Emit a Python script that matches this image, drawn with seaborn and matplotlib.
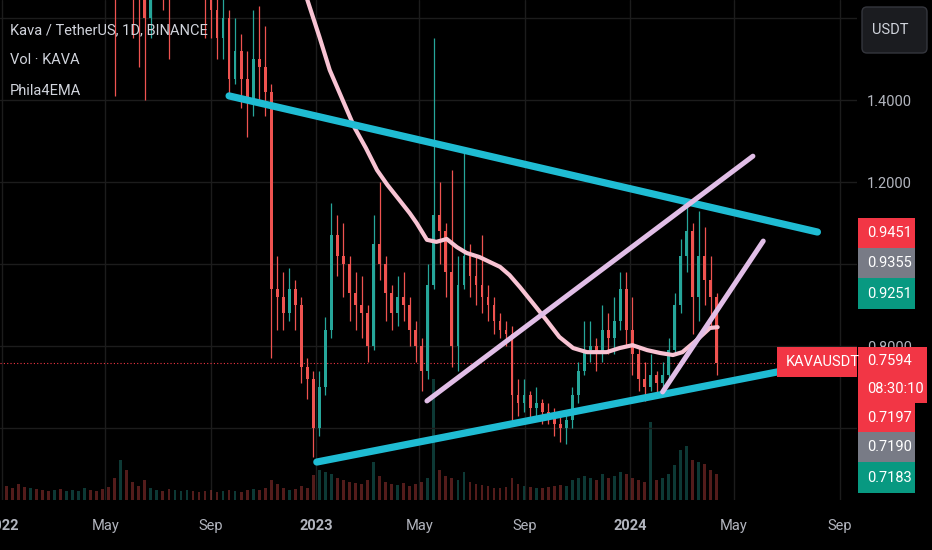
import numpy as np
import pandas as pd
import matplotlib
matplotlib.use('Agg')
import matplotlib.pyplot as plt
import matplotlib.dates as mdates
from matplotlib.patches import Rectangle, FancyBboxPatch
from matplotlib.transforms import IdentityTransform
import seaborn as sns

# KAVA / USDT, weekly candles (2022-01 .. 2024-04)
first_open = 4.4
close = [4.0, 3.6, 2.9, 2.8, 3.0, 2.7, 2.5, 2.4, 2.7, 2.6,
         2.9, 3.3, 3.8, 3.9, 3.2, 2.8, 2.4, 2.2, 1.8, 2.0,
         1.9, 1.8, 1.75, 1.6, 1.75, 1.8, 1.75, 1.7, 1.9, 2.0,
         2.1, 2.0, 1.85, 1.7, 1.62, 1.55, 1.60, 1.45, 1.52, 1.45,
         1.40, 1.50, 1.48, 1.42, 0.94, 0.92, 0.88, 0.94, 0.90, 0.75,
         0.72, 0.60, 0.70, 0.84, 1.07, 1.02, 1.00, 0.93, 0.90, 0.88,
         0.80, 1.05, 1.00, 0.93, 0.88, 0.92, 0.90, 0.84, 0.80, 0.74,
         0.95, 1.12, 1.08, 0.98, 0.80, 0.95, 1.02, 0.97, 0.95, 0.92,
         0.90, 0.86, 0.84, 0.83, 0.68, 0.66, 0.68, 0.65, 0.66, 0.64,
         0.63, 0.61, 0.60, 0.62, 0.68, 0.74, 0.79, 0.80, 0.78, 0.84,
         0.82, 0.86, 0.94, 0.84, 0.78, 0.72, 0.70, 0.73, 0.71, 0.73,
         0.79, 0.90, 1.02, 1.08, 0.92, 1.02, 0.96, 0.92, 0.7594]
high = [4.9, 4.2, 3.7, 3.1, 3.2, 3.1, 2.9, 2.6, 2.9, 2.9,
        3.1, 3.5, 4.1, 4.6, 4.0, 3.3, 2.9, 2.5, 2.3, 2.2,
        2.2, 2.0, 1.95, 1.85, 1.9, 1.95, 1.9, 1.9, 2.0, 2.2,
        2.3, 2.2, 2.05, 1.9, 1.8, 1.7, 1.68, 1.62, 1.60, 1.56,
        1.52, 1.62, 1.63, 1.58, 1.44, 1.02, 0.98, 0.99, 0.96, 0.92,
        0.77, 0.74, 0.74, 0.87, 1.15, 1.12, 1.10, 1.02, 0.98, 0.97,
        0.90, 1.12, 1.20, 1.02, 0.95, 0.97, 0.98, 0.92, 0.86, 0.82,
        1.00, 1.55, 1.20, 1.10, 1.23, 1.02, 1.27, 1.05, 1.02, 1.07,
        0.95, 0.92, 0.88, 0.86, 0.85, 0.72, 0.72, 0.69, 0.70, 0.67,
        0.66, 0.65, 0.63, 0.64, 0.70, 0.76, 0.86, 0.86, 0.82, 0.90,
        0.88, 0.92, 0.98, 0.98, 0.92, 0.80, 0.76, 0.78, 0.74, 0.76,
        0.82, 0.93, 1.06, 1.15, 1.10, 1.13, 1.09, 1.02, 0.93]
low = [3.9, 3.5, 2.7, 2.4, 2.7, 2.6, 2.3, 2.1, 2.3, 2.4,
       2.5, 2.8, 3.2, 3.6, 3.0, 2.6, 2.2, 1.9, 1.41, 1.7,
       1.75, 1.55, 1.48, 1.40, 1.55, 1.65, 1.62, 1.50, 1.7, 1.85,
       1.95, 1.85, 1.7, 1.55, 1.55, 1.50, 1.50, 1.41, 1.44, 1.38,
       1.31, 1.36, 1.40, 1.36, 0.77, 0.84, 0.84, 0.86, 0.84, 0.71,
       0.67, 0.53, 0.58, 0.68, 0.82, 0.97, 0.92, 0.86, 0.84, 0.82,
       0.76, 0.79, 0.96, 0.86, 0.84, 0.85, 0.86, 0.80, 0.76, 0.69,
       0.72, 0.94, 1.00, 0.92, 0.75, 0.74, 0.94, 0.92, 0.90, 0.88,
       0.86, 0.83, 0.82, 0.80, 0.62, 0.63, 0.64, 0.62, 0.62, 0.61,
       0.61, 0.58, 0.565, 0.56, 0.60, 0.66, 0.73, 0.76, 0.74, 0.76,
       0.78, 0.78, 0.84, 0.80, 0.73, 0.69, 0.665, 0.69, 0.68, 0.69,
       0.72, 0.78, 0.88, 0.98, 0.83, 0.86, 0.90, 0.85, 0.73]
volume = [14, 12, 16, 13, 12, 11, 10, 9, 10, 11,
          9, 10, 9, 12, 10, 9, 11, 13, 22, 40,
          30, 18, 14, 20, 12, 10, 9, 11, 10, 9,
          10, 9, 8, 9, 10, 8, 9, 10, 9, 8,
          10, 11, 10, 12, 20, 16, 12, 10, 11, 14,
          12, 25, 30, 28, 26, 22, 20, 18, 17, 16,
          20, 38, 24, 18, 16, 15, 17, 14, 16, 18,
          22, 121, 30, 24, 22, 20, 28, 18, 16, 15,
          14, 12, 12, 13, 22, 16, 14, 13, 12, 12,
          13, 14, 15, 14, 20, 22, 24, 22, 20, 26,
          22, 24, 28, 26, 22, 20, 18, 78, 20, 22,
          26, 35, 50, 54, 40, 38, 36, 30, 26]
candle_dates = pd.date_range('2022-01-06', periods=len(close), freq='7D')

# Phila4EMA line
ema_dates = ['2022-11-26', '2022-12-13', '2022-12-22', '2023-01-05', '2023-01-17',
             '2023-02-01', '2023-02-15', '2023-02-28', '2023-03-13', '2023-03-25',
             '2023-04-08', '2023-04-20', '2023-04-28', '2023-05-10', '2023-05-21',
             '2023-06-02', '2023-06-14', '2023-06-25', '2023-07-10', '2023-07-22',
             '2023-08-03', '2023-08-14', '2023-08-26', '2023-09-10', '2023-09-26',
             '2023-10-11', '2023-10-27', '2023-11-12', '2023-12-05', '2023-12-20',
             '2024-01-04', '2024-01-21', '2024-02-05', '2024-02-20', '2024-03-02',
             '2024-03-19', '2024-04-03', '2024-04-12']
ema_values = [1.912, 1.741, 1.644, 1.554, 1.473,
              1.400, 1.332, 1.283, 1.229, 1.193,
              1.156, 1.124, 1.100, 1.059, 1.054,
              1.061, 1.041, 1.027, 1.017, 1.005,
              0.993, 0.973, 0.944, 0.905, 0.863,
              0.822, 0.795, 0.785, 0.785, 0.795,
              0.802, 0.790, 0.783, 0.778, 0.785,
              0.815, 0.844, 0.846]

# hand drawn trend lines
upper_line_dates = ['2022-09-22', '2024-08-06']
upper_line_prices = [1.410, 1.078]
lower_line_dates = ['2023-01-02', '2024-06-21']
lower_line_prices = [0.517, 0.737]
channel_dates = ['2023-05-10', '2024-05-23']
channel_prices = [0.666, 1.263]
short_line_dates = ['2024-02-08', '2024-06-04']
short_line_prices = [0.688, 1.056]

last_price = 0.7594
countdown = '08:30:10'
upper_tags = ['0.9451', '0.9355', '0.9251']
lower_tags = ['0.7197', '0.7190', '0.7183']
price_ticks = [0.6, 0.8, 1.0, 1.2, 1.4, 1.6]
price_tick_labels = ['', '0.8000', '', '1.2000', '1.4000', '']  # others hidden under tags
time_ticks = ['2022-01-01', '2022-05-01', '2022-09-01', '2023-01-01', '2023-05-01',
              '2023-09-01', '2024-01-01', '2024-05-01', '2024-09-01']
time_labels = ['2022', 'May', 'Sep', '2023', 'May', 'Sep', '2024', 'May', 'Sep']

BG = '#000000'
UP, DOWN = '#26a69a', '#ef5350'
TAG_RED, TAG_GREY, TAG_GREEN = '#f23645', '#787b86', '#089981'
CYAN, LAVENDER, PINK = '#1fbcd3', '#e1bee7', '#f8c3d3'
TXT = '#d1d4dc'
GRID = '#1c1c1c'

sns.set_theme(style='dark')
plt.rcParams['font.family'] = ['Roboto', 'DejaVu Sans']

W, H = 932, 550
fig = plt.figure(figsize=(W / 100, H / 100), dpi=100, facecolor=BG)
pos = [0, 50 / H, 857 / W, 500 / H]
axv = fig.add_axes(pos, facecolor=BG)
ax = fig.add_axes(pos, sharex=axv)
ax.patch.set_visible(False)

opens = np.array([first_open] + close[:-1])
closes = np.array(close)
x = mdates.date2num(candle_dates)
is_up = closes >= opens
colors = np.where(is_up, UP, DOWN)

# volume underneath
axv.bar(x, volume, width=3.2, color=colors, alpha=0.35, linewidth=0)
axv.set_ylim(0, max(volume) * 500 / 121)
axv.set_yticks([])
axv.tick_params(axis='x', labelbottom=False, length=0)
for t in time_ticks:
    axv.axvline(mdates.date2num(pd.Timestamp(t)), color=GRID, lw=1, zorder=0)
for s in axv.spines.values():
    s.set_visible(False)

# price grid
for p in price_ticks:
    ax.axhline(p, color=GRID, lw=1, zorder=0)

# candles
ax.vlines(x, low, high, colors=colors, lw=0.9, zorder=2)
ax.bar(x, np.abs(closes - opens), bottom=np.minimum(opens, closes), width=3.2,
       color=colors, linewidth=0, zorder=3)

ax.axhline(last_price, color=TAG_RED, lw=0.8, ls=(0, (1, 2)), zorder=1)

sns.lineplot(x=mdates.date2num(pd.to_datetime(ema_dates)), y=ema_values, ax=ax,
             color=PINK, linewidth=3, zorder=4)
for d, p, c, lw in [(upper_line_dates, upper_line_prices, CYAN, 5.2),
                    (lower_line_dates, lower_line_prices, CYAN, 5.2),
                    (channel_dates, channel_prices, LAVENDER, 3.6),
                    (short_line_dates, short_line_prices, LAVENDER, 3.6)]:
    sns.lineplot(x=mdates.date2num(pd.to_datetime(d)), y=p, ax=ax, color=c,
                 linewidth=lw, solid_capstyle='round', zorder=5)

ax.set_xlim(mdates.date2num(pd.Timestamp('2021-12-29 16:00')),
            mdates.date2num(pd.Timestamp('2024-09-21')))
ax.set_ylim(0.4244, 1.6439)

ax.set_xticks(mdates.date2num(pd.to_datetime(time_ticks)))
ax.set_xticklabels(time_labels)
for lab in ax.get_xticklabels():
    if lab.get_text().isdigit():
        lab.set_fontweight('bold')
ax.tick_params(axis='x', length=0, pad=14, labelsize=10.5, labelcolor='#b2b5be')
ax.yaxis.tick_right()
ax.set_yticks(price_ticks)
ax.set_yticklabels(price_tick_labels)
ax.tick_params(axis='y', length=0, pad=7, labelsize=10.5, labelcolor='#b2b5be')
ax.grid(False)
axv.grid(False)
for s in ax.spines.values():
    s.set_visible(False)
ax.set_xlabel('')
ax.set_ylabel('')

# legend texts top-left
for i, s in enumerate(['Kava / TetherUS, 1D, BINANCE', 'Vol · KAVA', 'Phila4EMA']):
    fig.text(10, H - 30 - 30.5 * i, s, transform=IdentityTransform(), color=TXT,
             fontsize=10.5, va='center', ha='left')

idt = IdentityTransform()


def tag(x0, y0, x1, y1, color, lines, zorder=10):
    fig.add_artist(Rectangle((x0, H - y1), x1 - x0, y1 - y0, transform=idt,
                             facecolor=color, edgecolor='none', zorder=zorder))
    step = (y1 - y0) / len(lines)
    for k, s in enumerate(lines):
        fig.text(x0 + 9, H - (y0 + step * (k + 0.5)), s, transform=idt, color='white',
                 fontsize=10.5, va='center', ha='left', zorder=zorder + 1)


fig.add_artist(FancyBboxPatch((862, H - 53), 65, 46, boxstyle='round,pad=0,rounding_size=5',
                              transform=idt, facecolor='#1b1c20', edgecolor='#34363d',
                              lw=1, zorder=10))
fig.text(890, H - 30, 'USDT', transform=idt, color=TXT, fontsize=10.5,
         ha='center', va='center', zorder=11)

tag(858, 218, 915, 248, TAG_RED, [upper_tags[0]])
tag(858, 248, 915, 278, TAG_GREY, [upper_tags[1]])
tag(858, 278, 915, 309, TAG_GREEN, [upper_tags[2]])
tag(777, 347, 857, 377, TAG_RED, ['KAVAUSDT'])
tag(858, 347, 927, 403, TAG_RED, [f'{last_price:.4f}', countdown])
tag(858, 403, 915, 432, TAG_RED, [lower_tags[0]])
tag(858, 432, 915, 462, TAG_GREY, [lower_tags[1]])
tag(858, 462, 915, 493, TAG_GREEN, [lower_tags[2]])

fig.savefig('out.png', dpi=100, facecolor=BG)
